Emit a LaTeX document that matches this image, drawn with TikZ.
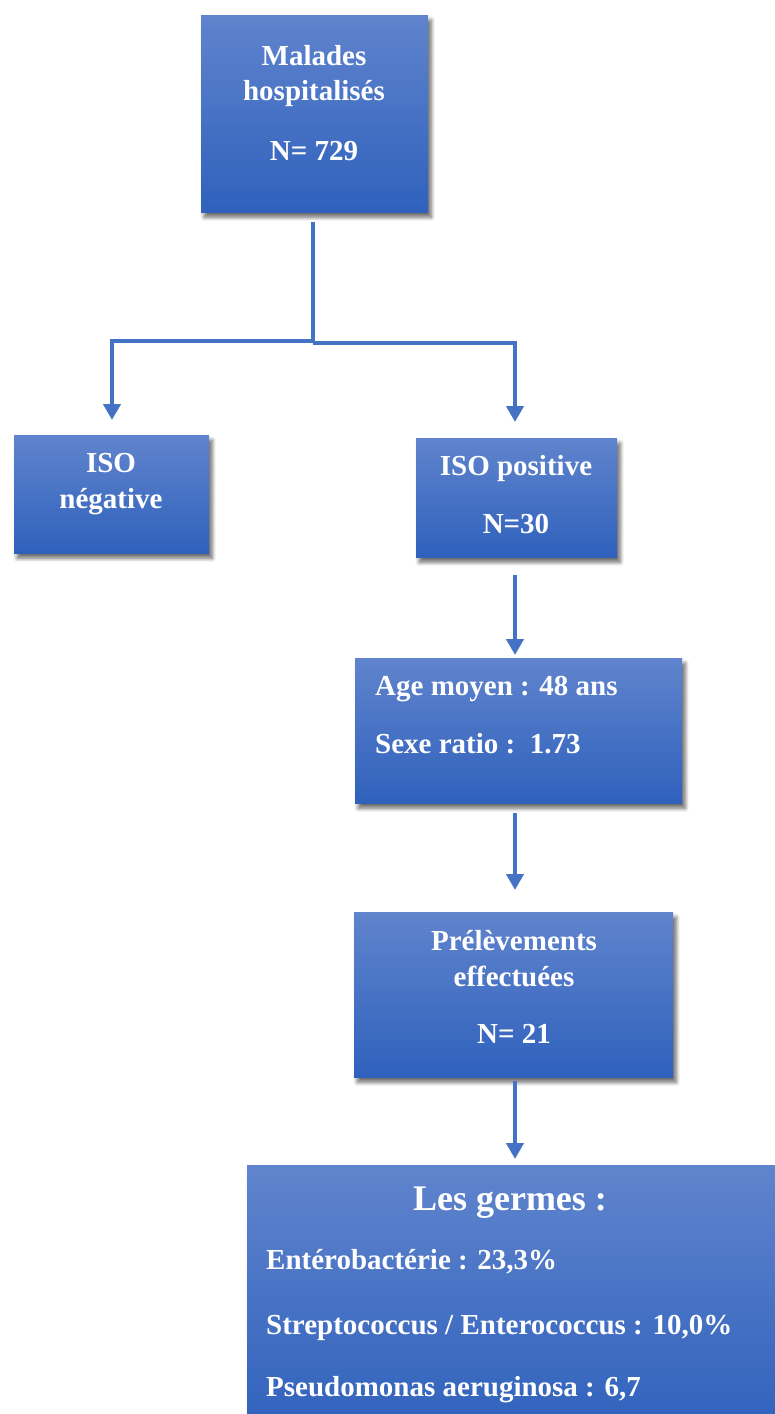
\documentclass[tikz,border=0pt]{standalone}
\usepackage{fontspec}
\setmainfont{Liberation Serif}
\usetikzlibrary{arrows.meta,shadows.blur}
\definecolor{boxtop}{RGB}{96,132,205}
\definecolor{boxbot}{RGB}{47,97,188}
\definecolor{conncol}{RGB}{68,114,196}
\tikzset{
  box/.style={draw=none, rectangle, inner sep=0pt, anchor=north west,
    top color=boxtop, bottom color=boxbot,
    blur shadow={shadow xshift=3pt, shadow yshift=-5pt, shadow blur steps=6, shadow blur radius=4pt, shadow opacity=60}},
  txt/.style={text=white, font=\bfseries\fontsize{29}{33}\selectfont, inner sep=0pt, anchor=base},
  txtl/.style={txt, anchor=base west},
  big/.style={text=white, font=\bfseries\fontsize{36}{40}\selectfont, inner sep=0pt, anchor=base},
  conn/.style={draw=conncol, line width=4pt},
  arr/.style={conn, -{Triangle[width=17pt,length=16pt]}}
}
\begin{document}
\begin{tikzpicture}[x=1pt,y=-1pt]
\useasboundingbox (0,0) rectangle (774,1414);
% boxes
\node[box, minimum width=227pt, minimum height=197pt] (mal) at (201,15) {};
\node[box, minimum width=195pt, minimum height=118pt] (neg) at (14,435) {};
\node[box, minimum width=201pt, minimum height=119pt] (pos) at (416,438) {};
\node[box, minimum width=327pt, minimum height=145pt] (age) at (355,658) {};
\node[box, minimum width=319pt, minimum height=165pt] (pre) at (354,912) {};
\node[box, minimum width=560pt, minimum height=270pt] (ger) at (247,1165) {};
% texts
\node[txt] (t1) at (314,65) {Malades};
\node[txt] (t2) at (314,100) {hospitalisés};
\node[txt] (t3) at (314,160) {N= 729};
\node[txt] (t4) at (111,472) {ISO};
\node[txt] (t5) at (111,508) {négative};
\node[txt] (t6) at (516,475) {ISO positive};
\node[txt] (t7) at (516,533) {N=30};
\node[txtl] (t8) at (375,695) {Age moyen : 48 ans};
\node[txtl] (t9) at (375,753) {Sexe ratio :\ \ 1.73};
\node[txt] (t10) at (514,950) {Prélèvements};
\node[txt] (t11) at (514,986) {effectuées};
\node[txt] (t12) at (514,1043) {N= 21};
\node[big] (t13) at (510,1210) {Les germes :};
\node[txtl] (t14) at (266,1269) {Entérobactérie : 23,3\%};
\node[txtl] (t15) at (266,1334) {Streptococcus / Enterococcus : 10,0\%};
\node[txtl] (t16) at (266,1396) {Pseudomonas aeruginosa : 6,7};
% connectors
\coordinate (split) at (313,342);
\coordinate (lft) at (112,341);
\coordinate (rgt) at (515,343);
\draw[conn] (mal.south -| split) ++(0,10) -- (split);
\draw[arr] (split) -- (313,341) -- (lft) -- ([yshift=15pt]lft |- neg.north);
\draw[arr] (313,343) -- (rgt) -- ([yshift=16pt]rgt |- pos.north);
\draw[arr] ([yshift=-18pt]pos.south -| rgt) -- ([yshift=3pt]rgt |- age.north);
\draw[arr] ([yshift=-10pt]age.south -| rgt) -- ([yshift=22pt]rgt |- pre.north);
\draw[arr] ([yshift=-4pt]pre.south -| rgt) -- ([yshift=6pt]rgt |- ger.north);
\end{tikzpicture}
\end{document}
